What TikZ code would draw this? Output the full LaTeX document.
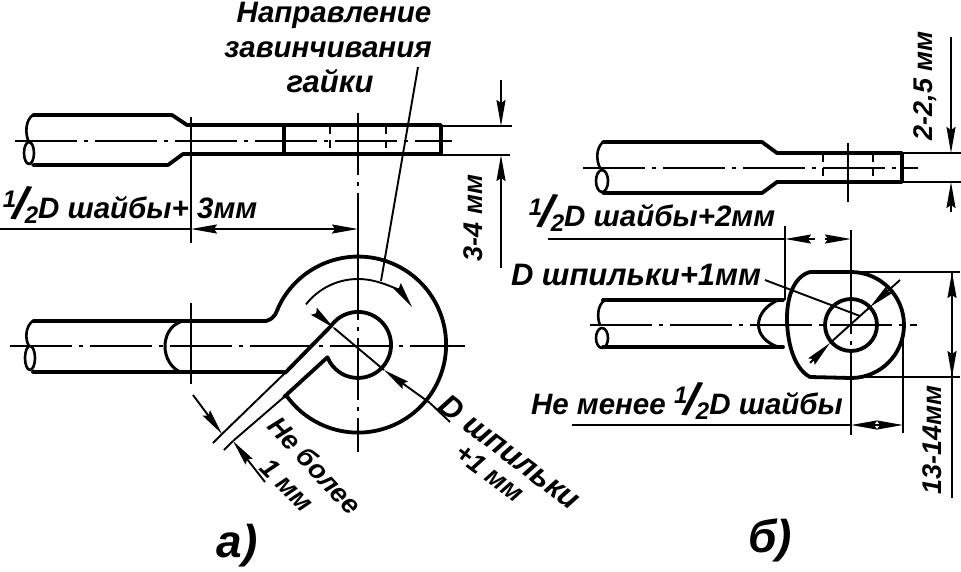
\documentclass[tikz,border=0pt]{standalone}
\usepackage{fontspec}
\setmainfont{Liberation Sans}
\usetikzlibrary{arrows.meta}
\newcommand{\halfmark}{\raisebox{.38em}{\fontsize{24}{24}\selectfont 1}\kern-.12em\rotatebox[origin=c]{-6}{\fontsize{46}{46}\selectfont /}\kern-.14em\raisebox{-.14em}{\fontsize{24}{24}\selectfont 2}}
\tikzset{
  outline/.style={line width=3.8pt, line join=round, line cap=round},
  thinline/.style={line width=1.9pt},
  axisline/.style={line width=1.9pt, dash pattern=on 62pt off 7pt on 4pt off 7pt},
  hiddenline/.style={line width=1.9pt, dash pattern=on 8pt off 6pt},
  dimarrow/.style={line width=1.9pt, -{Stealth[length=26pt, width=9pt, inset=3pt]}},
  lbl/.style={font=\fontsize{31}{33}\selectfont\itshape\bfseries, inner sep=0pt},
  lblmid/.style={font=\fontsize{29.5}{31}\selectfont\itshape\bfseries, inner sep=0pt},
  lblnarrow/.style={font=\fontsize{27}{29}\selectfont\itshape\bfseries, inner sep=0pt},
  bigmark/.style={font=\fontsize{46}{48}\selectfont\itshape\bfseries, inner sep=0pt}
}
\begin{document}
\begin{tikzpicture}[x=1pt, y=-1pt]
  \useasboundingbox (0, 0) rectangle (961, 571);

  % Caption labels
  \node (capTopA) at (334, 15) [lblmid] {Направление};
  \node (capMidA) at (328, 50) [lblmid] {завинчивания};
  \node (capLowA) at (330, 81) [lbl] {гайки};
  \node (capA) at (237, 546) [bigmark] {а)};
  \node (capB) at (770, 540) [bigmark] {б)};

  % A: top view
  \draw[outline] (33, 115) -- (172, 115) -- (187, 125) -- (441, 125) -- (441, 154) -- (183, 154) -- (168, 165) -- (33, 165);
  \draw[outline, line width=2.6pt] (33, 115) .. controls (25, 120) and (25, 135) .. (29, 142);
  \draw[outline, line width=2.6pt] (29, 153) ellipse (5 and 11);
  \draw[outline] (284, 125) -- (284, 154);
  \draw[axisline] (15, 141) -- (452, 141);
  \draw[hiddenline] (330, 126) -- (330, 154);
  \draw[hiddenline] (386, 126) -- (386, 154);
  \draw[thinline] (191, 117) -- (191, 243);
  \draw[axisline] (358, 113) -- (358, 258);
  \draw[thinline] (441, 126) -- (512, 126);
  \draw[thinline] (441, 155) -- (510, 155);

  % A: 3-4 mm
  \node (dimThreeA) at (473, 218) [lblnarrow, rotate=90] {3-4 мм};
  \draw[dimarrow] (501, 80) -- (501, 126);
  \draw[dimarrow] (501, 268) -- (501, 155);

  % A: half D label
  \node (dimHalfA) at (130, 204) [lblmid] {\halfmark D шайбы+ 3мм};
  \draw[thinline] (0, 229) -- (191, 229);
  \draw[dimarrow] (220, 229) -- (191, 229);
  \draw[thinline] (220, 229) -- (330, 229);
  \draw[dimarrow] (330, 229) -- (358, 229);

  % A: plan view
  \draw[outline] (33, 321) -- (266, 321) .. controls (276, 318) and (276, 312) .. (279, 306) arc (206:505:88);
  \draw[outline] (33, 372) -- (285, 372);
  \draw[outline] (285, 373) -- (331, 326) arc (215:518:33) -- (284, 397);
  \draw[outline, line width=2.6pt] (33, 321) .. controls (25, 326) and (25, 340) .. (29, 346);
  \draw[outline, line width=2.6pt] (30, 358) ellipse (5 and 12);
  \draw[outline, line width=3pt] (180, 322) .. controls (160, 330) and (160, 362) .. (180, 372);
  \draw[thinline] (285, 373) -- (222, 434);
  \draw[thinline] (284, 397) -- (233, 441);
  \draw[axisline] (10, 346) -- (465, 346);
  \draw[thinline] (191, 303) -- (191, 384);
  \draw[axisline] (358, 258) -- (358, 452);

  % A: direction of turning
  \draw[dimarrow] (358, 345) ++ (218:66) arc (218:325:66);
  \draw[thinline] (418, 67) -- (381, 281);

  % A: slot width
  \draw[dimarrow] (193, 395) -- (222, 434);
  \draw[dimarrow] (265, 482) -- (233, 441);
  \draw[thinline] (222, 434) -- (213, 443);
  \draw[thinline] (233, 441) -- (224, 450);
  \node (dimSlotTop) at (315, 465) [lblnarrow, rotate=-47] {Не более};
  \node (dimSlotLow) at (287, 485) [lblnarrow, rotate=-45] {1 мм};

  % A: hole diameter
  \draw[dimarrow] (316, 313) -- (334, 328);
  \draw[thinline] (334, 328) -- (384, 370);
  \draw[dimarrow] (430, 403) -- (384, 370);
  \draw[thinline] (430, 403) -- (450, 422);
  \node (dimHoleTop) at (510, 452) [lbl, rotate=-37] {D шпильки};
  \node (dimHoleLow) at (490, 473) [lblnarrow, rotate=-37] {+1 мм};

  % B: top view
  \draw[outline] (603, 142) -- (762, 142) -- (777, 153) -- (902, 153) -- (902, 182) -- (777, 182) -- (762, 193) -- (603, 193);
  \draw[outline, line width=2.6pt] (603, 142) .. controls (596, 148) and (596, 160) .. (600, 168);
  \draw[outline, line width=2.6pt] (602, 181) ellipse (6 and 11);
  \draw[axisline] (583, 168) -- (918, 168);
  \draw[hiddenline] (823, 154) -- (823, 182);
  \draw[hiddenline] (873, 154) -- (873, 182);
  \draw[thinline] (848, 143) -- (848, 202);
  \draw[thinline] (902, 153) -- (961, 153);
  \draw[thinline] (902, 182) -- (961, 182);

  % B: 2-2,5 mm
  \node (dimTwoB) at (925, 86) [lblnarrow, rotate=90] {2-2,5 мм};
  \draw[dimarrow] (951, 37) -- (951, 153);
  \draw[dimarrow] (951, 212) -- (951, 182);

  % B: half D label
  \node (dimHalfB) at (652, 212) [lblmid] {\halfmark D шайбы+2мм};
  \draw[thinline] (548, 239) -- (785, 239);
  \draw[dimarrow] (815, 239) -- (785, 239);
  \draw[dimarrow] (825, 239) -- (851, 239);
  \draw[thinline, line width=2.4pt] (785, 226) -- (785, 300);
  \draw[thinline] (851, 230) -- (851, 272);

  % B: plan view
  \draw[outline] (603, 300) -- (783, 300);
  \draw[outline] (603, 347) -- (783, 347);
  \draw[outline] (851, 272) -- (810, 272) .. controls (795, 276) and (787, 295) .. (787, 318) .. controls (787, 340) and (793, 368) .. (810, 377) -- (851, 378) arc (90:-90:53);
  \draw[outline, line width=3pt] (778, 300) .. controls (752, 312) and (752, 338) .. (778, 347);
  \draw[outline, line width=2.6pt] (605, 300) .. controls (597, 305) and (597, 318) .. (600, 325);
  \draw[outline, line width=2.6pt] (602, 338) ellipse (6 and 10);
  \draw[outline] (851, 325) circle (26);
  \draw[axisline] (590, 325) -- (917, 325);
  \draw[axisline] (851, 272) -- (851, 378);
  \draw[thinline] (851, 378) -- (851, 435);
  \draw[thinline] (851, 272) -- (960, 272);
  \draw[thinline] (851, 377) -- (960, 377);

  % B: stud label and hole diameter
  \node (dimStudB) at (636, 275) [lbl] {D шпильки+1мм};
  \draw[thinline] (765, 280) -- (860, 316);
  \draw[dimarrow] (900, 280) -- (870, 307);
  \draw[dimarrow] (810, 363) -- (830, 343);
  \draw[thinline] (870, 307) -- (830, 343);

  % B: lower half D label
  \node (dimLessB) at (687, 400) [lblmid] {Не менее \halfmark D шайбы};
  \draw[thinline] (572, 425) -- (851, 425);
  \draw[dimarrow] (880, 425) -- (851, 425);
  \draw[dimarrow] (875, 425) -- (903, 425);
  \draw[thinline, line width=2.4pt] (903, 325) -- (903, 433);

  % B: 13-14 mm
  \node (dimThirteenB) at (932, 440) [lblnarrow, rotate=90] {13-14мм};
  \draw[dimarrow] (952, 300) -- (952, 272);
  \draw[dimarrow] (952, 345) -- (952, 377);
  \draw[thinline] (952, 272) -- (952, 498);

\end{tikzpicture}
\end{document}
